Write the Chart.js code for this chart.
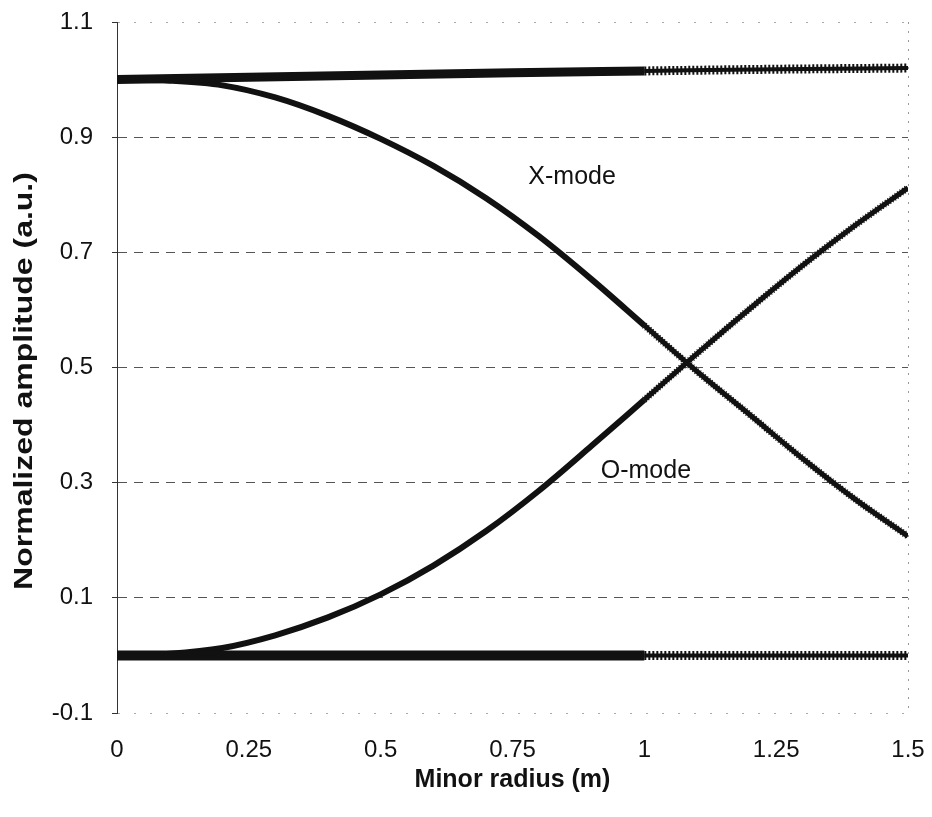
<!DOCTYPE html>
<html>
<head>
<meta charset="utf-8">
<title>Normalized amplitude vs minor radius</title>
<script src="https://cdn.jsdelivr.net/npm/chart.js@4/dist/chart.umd.min.js"></script>
<style>
  html, body { margin: 0; padding: 0; background: #fff; }
  #wrap { width: 932px; height: 817px; }
</style>
</head>
<body>
<div id="wrap"><canvas id="chart" width="932" height="817"></canvas></div>
<script>
// values
const radius = [0, 0.1, 0.2, 0.3, 0.4, 0.5, 0.6, 0.7, 0.8, 0.9, 1.0, 1.1, 1.2, 1.3, 1.4, 1.5];
const xMode  = [1.0, 0.998, 0.99, 0.969, 0.937, 0.897, 0.85, 0.794, 0.728, 0.653, 0.573, 0.493, 0.418, 0.342, 0.271, 0.207];
const oMode  = [0.0, 0.003, 0.013, 0.035, 0.066, 0.106, 0.156, 0.216, 0.286, 0.364, 0.444, 0.524, 0.602, 0.677, 0.747, 0.812];

const sumRadius = [0, 0.25, 0.5, 0.75, 1.0, 1.25, 1.5];
const sumLine   = [1.0, 1.004, 1.008, 1.012, 1.015, 1.018, 1.02];

const baseRadius = [0, 0.5, 1.0, 1.5];
const baseLine   = [0, 0, 0, 0];

const xTicks = [0, 0.25, 0.5, 0.75, 1, 1.25, 1.5];
const yTicks = [-0.1, 0.1, 0.3, 0.5, 0.7, 0.9, 1.1];

const curveLabels = [
  { text: 'X-mode', x: 0.863, y: 0.831 },
  { text: 'O-mode', x: 1.003, y: 0.32 },
];

const FONT = "'Liberation Sans', Arial, sans-serif";
const INK = '#111';

const pts = (xs, ys) => xs.map((x, i) => ({ x, y: ys[i] }));

// solid part: thick up to r = 1, thinner core after it
function coreLine(xs, ys, thick, thin) {
  return {
    data: pts(xs, ys),
    borderColor: INK,
    borderWidth: thick,
    pointRadius: 0,
    borderCapStyle: 'butt',
    cubicInterpolationMode: 'monotone',
    segment: { borderWidth: c => c.p0.parsed.x >= 1 ? thin : thick },
  };
}
// hatched overlay after r = 1 (the dense markers of the original)
function hatchLine(xs, ys, width, dash) {
  return {
    data: pts(xs, ys),
    borderColor: INK,
    borderWidth: width,
    pointRadius: 0,
    borderDash: dash,
    cubicInterpolationMode: 'monotone',
    segment: { borderColor: c => c.p0.parsed.x >= 1 ? INK : 'rgba(0,0,0,0)' },
  };
}

const curveText = {
  id: 'curveText',
  afterDatasetsDraw(chart) {
    const { ctx, scales: { x, y } } = chart;
    ctx.save();
    ctx.fillStyle = INK;
    ctx.font = '25px ' + FONT;
    ctx.textAlign = 'center';
    ctx.textBaseline = 'middle';
    curveLabels.forEach(l => ctx.fillText(l.text, x.getPixelForValue(l.x), y.getPixelForValue(l.y)));
    ctx.restore();
  },
};

// y title is drawn stretched along its reading direction, as in the figure
const yTitle = {
  id: 'yTitle',
  afterDraw(chart) {
    const { ctx } = chart;
    ctx.save();
    ctx.translate(25, 381);
    ctx.rotate(-Math.PI / 2);
    ctx.scale(1.28, 1);
    ctx.fillStyle = INK;
    ctx.font = 'bold 25px ' + FONT;
    ctx.textAlign = 'center';
    ctx.textBaseline = 'middle';
    ctx.fillText('Normalized amplitude (a.u.)', 0, 0);
    ctx.restore();
  },
};

const isEdge = c => c.tick && (c.tick.value === yTicks[0] || c.tick.value === yTicks[yTicks.length - 1]);

new Chart(document.getElementById('chart').getContext('2d'), {
  type: 'line',
  data: {
    datasets: [
      coreLine(sumRadius, sumLine, 9, 4),
      hatchLine(sumRadius, sumLine, 9, [2, 2]),
      coreLine(baseRadius, baseLine, 10, 4),
      hatchLine(baseRadius, baseLine, 9, [2, 2]),
      coreLine(radius, xMode, 6, 5),
      hatchLine(radius, xMode, 7, [1, 2]),
      coreLine(radius, oMode, 6, 5),
      hatchLine(radius, oMode, 7, [1, 2]),
    ],
  },
  options: {
    responsive: false,
    animation: false,
    layout: { padding: { top: 22, right: 24, bottom: 0, left: 0 } },
    plugins: { legend: { display: false }, tooltip: { enabled: false } },
    scales: {
      x: {
        type: 'linear',
        min: 0,
        max: 1.5,
        afterBuildTicks: s => { s.ticks = xTicks.map(v => ({ value: v })); },
        afterFit: s => { s.height = 104; s.paddingLeft = 0; s.paddingRight = 0; },
        ticks: {
          callback: v => String(v),
          font: { family: FONT, size: 24 },
          color: INK,
          padding: 23,
          maxRotation: 0,
        },
        grid: {
          drawTicks: false,
          color: c => c.tick && c.tick.value === 1.5 ? '#999' : 'rgba(0,0,0,0)',
        },
        border: { display: false, dash: [2, 7] },
        title: {
          display: true,
          text: 'Minor radius (m)',
          color: INK,
          font: { family: FONT, size: 25, weight: 'bold' },
          padding: { top: 0, bottom: 22 },
        },
      },
      y: {
        min: -0.1,
        max: 1.1,
        afterBuildTicks: s => { s.ticks = yTicks.map(v => ({ value: v })); },
        afterFit: s => { s.width = 117; s.paddingTop = 0; s.paddingBottom = 0; },
        ticks: {
          callback: v => String(v),
          font: { family: FONT, size: 24 },
          color: INK,
          padding: 19,
        },
        grid: {
          tickLength: 5,
          tickColor: '#333',
          color: c => isEdge(c) ? '#aaa' : '#555',
        },
        border: {
          display: true,
          color: '#333',
          width: 1,
          dash: c => isEdge(c) ? [2, 14] : [9, 7],
        },
      },
    },
  },
  plugins: [curveText, yTitle],
});
</script>
</body>
</html>
